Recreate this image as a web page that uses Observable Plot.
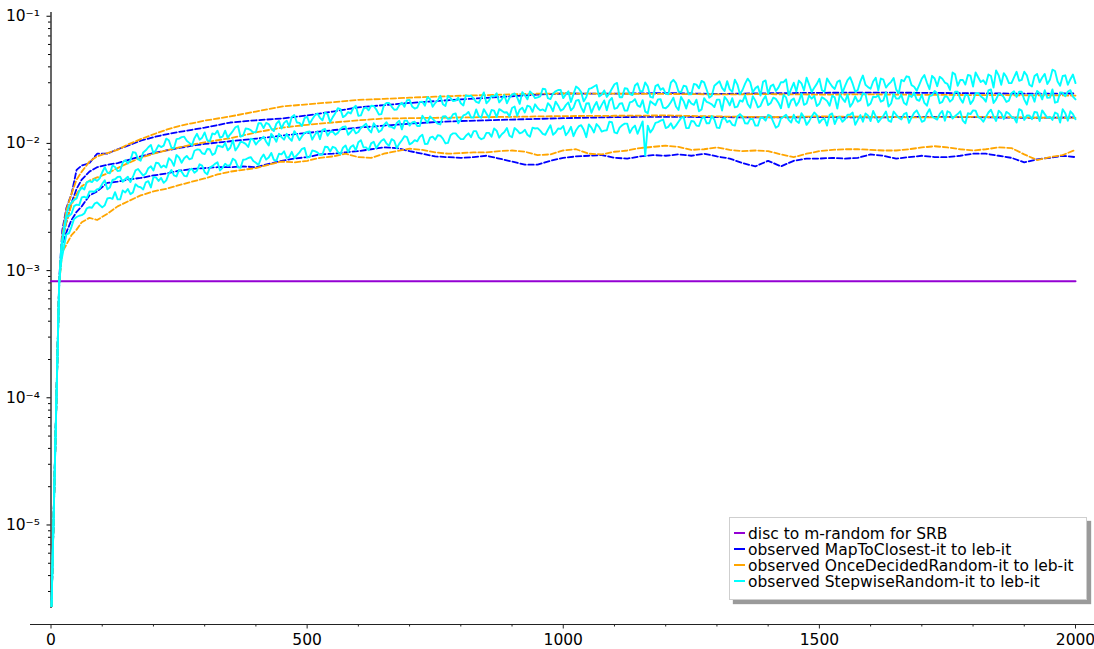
<!DOCTYPE html>
<html>
<head>
<meta charset="utf-8">
<script src="https://cdn.jsdelivr.net/npm/d3@7"></script>
<script src="https://cdn.jsdelivr.net/npm/@observablehq/plot@0.6"></script>
<style>
  html, body { margin: 0; padding: 0; background: #fff; }
  #wrap { position: relative; width: 1094px; height: 649px; font-family: "DejaVu Sans", sans-serif; }
  #legend {
    position: absolute; left: 729px; top: 517px; width: 358px; height: 83px;
    box-sizing: border-box; background: #fff; border: 1px solid #cfcfcf;
    box-shadow: 4px 4px 1px #9a9a9a; padding: 7.5px 0 0 4px;
    font-size: 15.5px; line-height: 16px; color: #000; white-space: nowrap;
  }
  #legend .row { height: 16px; }
  #legend .sw { display: inline-block; width: 11px; height: 2px; vertical-align: 5px; margin-right: 3px; }
</style>
</head>
<body>
<div id="wrap"></div>
<script>
// ---------- legend / series names ----------
const seriesNames = [
  "disc to m-random for SRB",
  "observed MapToClosest-it to leb-it",
  "observed OnceDecidedRandom-it to leb-it",
  "observed StepwiseRandom-it to leb-it"
];
const seriesColors = ["#9400d3", "#0000ff", "#ffa500", "#00ffff"];

// ---------- axis ticks ----------
const xMajorTicks = [0, 500, 1000, 1500, 2000];
const xMinorTicks = [100, 200, 300, 400, 600, 700, 800, 900, 1100, 1200, 1300, 1400, 1600, 1700, 1800, 1900];
const yMajorTicks = [1e-5, 1e-4, 1e-3, 1e-2, 1e-1];
const yMinorTicks = [3e-6, 4e-6, 5e-6, 6e-6, 7e-6, 8e-6, 9e-6,
  2e-5, 3e-5, 4e-5, 5e-5, 6e-5, 7e-5, 8e-5, 9e-5,
  2e-4, 3e-4, 4e-4, 5e-4, 6e-4, 7e-4, 8e-4, 9e-4,
  2e-3, 3e-3, 4e-3, 5e-3, 6e-3, 7e-3, 8e-3, 9e-3,
  2e-2, 3e-2, 4e-2, 5e-2, 6e-2, 7e-2, 8e-2, 9e-2];
const xDomain = [0, 2000];
const yDomain = [1.65e-6, 0.107];      // log scale, bottom = x-axis line
const xAxisLineExtent = [-40, 2040];   // where the bottom axis line runs
const yAxisLineExtent = [2.2e-6, 0.107];

// ---------- data (values in units of 1e-3) ----------
const discValue = 0.824;
const discX = [0, 2000];

const xCoarse = [1,16,22,30,40,50,60,75,90,110,130,150,175,200,225,250,275,300,350,400,450,500,550,600,650,700,750,800,850,900,950,1000,1100,1200,1300,1400,1500,1600,1700,1800,1900,2000];
const mapTop   = [0.0023,0.85,2.07,3.1,4.0,6.2,6.7,7.0,8.3,8.3,9.0,9.6,10.5,11.2,11.8,12.3,12.8,13.3,14.6,15.2,15.7,16.6,17.8,19.2,20.0,20.8,21.5,22.2,22.8,23.5,24.2,24.7,24.6,24.9,24.5,24.8,25.0,25.1,25.0,24.8,24.6,24.7];
const onceTop  = [0.0023,0.8,1.9,3.0,4.0,5.2,6.0,7.2,7.9,8.4,8.9,9.8,10.8,11.8,12.8,13.7,14.4,15.1,16.3,17.8,19.5,20.3,21.1,22.0,22.4,22.9,23.3,23.7,24.0,24.3,24.6,24.7,24.6,24.5,24.3,24.4,24.2,24.3,24.1,24.0,23.9,23.8];
const mapMid   = [0.0023,0.8,1.8,2.4,3.4,4.4,5.2,6.0,6.5,6.8,7.0,7.4,7.9,8.4,8.8,9.2,9.6,9.9,10.4,10.9,11.5,12.1,12.7,13.3,13.8,14.3,14.7,15.0,15.2,15.4,15.6,15.8,16.1,16.2,16.1,16.0,16.1,16.0,16.2,16.1,15.9,16.0];
const onceMid  = [0.0023,0.8,1.7,2.4,3.3,4.0,4.6,5.1,5.4,5.8,6.4,7.0,7.7,8.3,8.8,9.3,9.8,10.2,11.0,12.2,13.3,14.0,14.6,15.2,15.7,15.8,15.9,16.0,16.1,16.2,16.3,16.4,16.5,16.6,16.3,16.1,16.3,16.2,16.0,16.2,16.0,15.9];

const xFine = [1,16,22,30,40,50,60,75,90,110,130,150, ...d3.range(175, 2001, 25)];
const mapBottom = [0.0023,0.8,1.6,2.0,2.5,2.9,3.2,3.9,4.2,4.9,5.0,5.2,
  5.35,5.6,5.8,6.1,6.3,6.4,6.5,6.5,6.6,6.5,
  6.9,7.3,7.6,7.8,8.2,8.3,8.5,8.7,9.0,9.3,
  9.2,8.7,8.3,7.9,7.8,7.7,7.8,8.0,7.6,7.2,
  6.8,6.8,7.3,7.7,7.9,8.0,8.1,7.7,7.6,7.9,
  8.1,8.0,8.2,8.0,8.3,7.9,7.6,7.0,6.6,7.3,
  6.6,7.3,7.6,7.6,7.7,7.6,7.7,8.2,8.0,7.6,
  7.8,8.0,7.8,7.8,8.0,8.3,8.3,8.0,7.7,7.1,
  7.5,7.7,8.0,7.8];
const onceBottom = [0.0023,0.8,1.4,1.6,1.9,2.1,2.4,2.6,2.5,2.8,3.2,3.5,
  3.9,4.2,4.4,4.7,5.0,5.3,5.7,6.0,6.2,6.4,
  6.8,7.2,7.1,7.3,7.7,7.9,8.3,7.8,7.7,8.3,
  8.7,9.1,8.9,8.5,8.3,8.4,8.5,8.5,8.7,8.8,
  8.6,8.1,8.2,8.8,9.0,8.3,8.2,8.6,8.8,9.2,
  9.4,9.6,9.4,8.9,9.0,9.3,8.9,8.7,8.8,8.7,
  8.2,7.8,8.3,8.7,8.9,9.0,9.0,8.9,8.8,8.8,
  9.0,9.3,9.5,9.3,9.0,8.8,9.0,9.3,9.2,8.2,
  7.4,7.8,8.1,8.9];

// StepwiseRandom: noisy samples at x = 1, 16, 20, 30, ..., 2000 and at x = 25, 35, ..., 1995
const xStep = [1, 16, ...d3.range(20, 2001, 10)];
const xStepHalf = d3.range(25, 2000, 10);
const stepTop = [0.0023,0.8,
  1.55,2.73,3.43,3.70,4.49,4.96,4.97,5.08,
  5.93,5.89,6.70,6.06,7.06,6.96,8.55,7.53,8.50,9.33,
  8.37,9.69,9.60,10.6,9.17,10.9,11.3,10.1,11.0,10.7,
  12.2,10.4,11.8,11.1,12.6,11.8,13.4,11.3,13.1,12.7,
  12.3,14.4,14.5,13.1,14.3,13.1,15.1,16.1,14.6,13.7,
  16.2,15.5,17.2,15.2,17.0,16.1,18.9,16.1,17.6,18.9,
  16.5,18.7,18.2,19.7,16.9,20.0,20.8,18.4,20.0,19.4,
  22.0,18.8,21.2,19.8,22.3,20.8,23.7,19.7,22.7,21.7,
  20.7,23.9,23.8,21.2,22.9,20.7,23.6,24.8,22.2,20.7,
  24.2,23.0,25.3,22.2,24.5,23.0,26.9,22.7,24.6,26.3,
  22.7,25.7,24.4,27.0,21.4,26.8,28.0,23.4,26.1,24.7,
  29.2,23.1,27.2,24.4,28.5,25.7,30.2,23.2,28.2,26.4,
  24.6,30.0,29.8,25.3,28.1,24.3,29.0,31.0,26.4,23.7,
  29.6,27.3,30.9,25.5,29.0,26.3,32.3,25.3,28.1,30.5,
  24.6,29.0,27.5,30.3,24.0,30.0,31.2,26.1,29.0,27.4,
  32.2,25.5,30.0,26.8,31.3,28.2,33.2,25.5,30.8,28.9,
  26.9,32.8,32.4,27.5,30.5,26.5,31.6,33.7,28.7,25.9,
  32.3,30.0,34.0,28.2,32.2,29.4,36.1,28.4,31.6,34.5,
  28.0,33.1,31.4,34.8,27.5,34.3,35.7,29.8,33.0,31.1,
  36.6,28.9,33.9,30.2,35.2,31.6,37.1,28.4,34.3,32.0,29.8];
const stepTopHalf = [
  2.09,3.24,3.59,4.21,4.35,5.05,5.23,5.31,
  6.50,5.83,6.52,6.12,7.40,7.40,8.45,7.30,8.82,9.72,
  8.88,9.36,10.9,9.28,10.8,11.2,10.5,9.64,11.9,11.1,
  10.6,12.0,12.6,11.3,11.1,12.5,13.7,11.5,13.0,12.2,
  14.4,13.2,14.2,12.5,15.0,14.5,13.6,16.7,14.5,15.8,
  14.3,16.6,15.9,17.5,14.7,17.3,18.6,16.6,17.2,19.8,
  16.6,19.2,19.8,18.5,17.0,20.8,19.5,18.5,20.9,21.9,
  19.5,19.1,21.3,23.2,19.4,21.8,20.3,23.7,21.5,22.9,
  19.9,23.5,22.5,20.8,25.2,21.7,23.4,21.0,24.0,22.8,
  24.7,20.5,24.0,25.6,22.7,23.4,26.7,22.3,25.7,26.3,
  24.3,21.2,28.0,25.3,23.2,27.2,28.8,24.2,23.2,26.9,
  29.9,23.1,26.9,24.0,29.7,25.7,28.0,22.9,29.0,27.2,
  24.3,31.6,25.6,28.4,24.3,29.4,27.1,30.2,22.9,28.4,
  30.8,25.8,26.6,31.7,24.4,29.5,30.3,27.2,23.8,31.3,
  28.2,25.9,30.3,31.9,26.8,25.6,29.7,32.9,25.4,29.4,
  26.2,32.4,28.0,30.5,24.9,31.5,29.5,26.3,34.2,27.7,
  30.7,26.2,31.7,29.2,32.7,24.8,30.8,33.3,27.9,28.9,
  34.5,26.7,32.4,33.4,30.1,26.4,34.9,31.5,29.0,34.1,
  36.1,30.4,29.2,33.9,37.5,28.9,33.4,29.8,36.6,31.6,
  34.3,28.0,35.2,33.0,29.3,38.0,30.7,33.9,28.9,34.8];
const stepMid = [0.0023,0.8,
  1.37,2.64,2.80,3.30,3.76,3.72,4.19,4.36,
  4.81,4.36,5.16,5.44,4.99,5.47,5.47,6.29,5.59,6.39,
  6.13,6.98,6.70,7.65,6.66,7.75,7.64,7.51,8.76,8.93,
  8.24,8.99,8.35,9.50,10.1,9.25,8.81,10.3,9.93,10.9,
  9.80,10.8,10.3,11.9,10.3,11.2,11.9,10.5,11.7,11.4,
  12.3,10.7,12.4,12.8,11.5,12.4,12.1,13.5,11.7,13.1,
  12.3,13.7,12.9,14.4,12.3,14.0,13.6,13.1,15.1,15.1,
  13.8,14.8,13.7,15.5,16.3,14.9,14.1,16.4,15.7,17.2,
  15.4,16.9,16.0,18.5,15.9,17.2,18.3,16.1,18.1,17.6,
  19.0,16.5,19.1,19.8,17.7,19.0,18.5,20.7,17.9,19.9,
  18.6,21.0,19.1,22.0,17.6,20.7,19.5,18.4,21.8,21.6,
  18.7,20.5,18.1,21.0,22.3,19.4,17.8,21.5,20.0,22.3,
  18.9,21.1,19.5,23.2,18.8,20.6,22.1,18.5,21.2,20.3,
  22.1,18.1,21.9,22.7,19.5,21.3,20.4,23.5,19.2,22.0,
  20.0,22.9,20.9,24.0,19.2,22.6,21.3,20.1,23.8,23.6,
  20.5,22.4,19.8,23.0,24.3,21.2,19.4,23.4,21.9,24.3,
  20.6,23.1,21.3,25.3,20.6,22.5,24.1,20.1,23.2,22.1,
  24.1,19.8,23.9,24.8,21.2,23.2,22.2,25.5,20.9,23.9,
  21.8,24.9,22.7,26.1,20.8,24.5,23.1,21.7,25.7,25.5,
  22.1,24.1,21.3,24.8,26.2,22.9,20.9,25.2,23.5,26.2,22.2];
const stepMidHalf = [
  2.00,2.69,3.21,3.27,3.81,4.19,4.17,4.43,
  5.14,4.51,5.23,5.48,5.25,4.97,6.13,5.92,5.79,6.60,
  7.05,6.48,6.48,7.33,8.10,7.05,7.97,7.62,8.96,8.37,
  9.04,8.12,9.58,9.34,8.84,10.6,9.42,10.2,9.37,10.7,
  10.4,11.3,9.62,11.2,11.9,10.7,11.0,12.5,10.6,12.1,
  12.4,11.7,10.8,13.0,12.3,11.7,13.0,13.6,12.3,12.0,
  13.3,14.3,12.2,13.5,12.7,14.7,13.5,14.5,12.9,15.1,
  14.6,13.7,16.5,14.5,15.6,14.3,16.3,15.6,17.0,14.4,
  16.6,17.7,16.0,16.4,18.6,15.9,18.1,18.6,17.5,16.3,
  19.5,18.4,17.5,19.5,20.3,18.2,17.9,19.7,21.3,18.1,
  20.0,18.2,21.7,19.2,20.6,17.4,21.2,20.1,18.2,22.8,
  19.0,20.7,18.1,21.3,19.9,21.9,17.3,20.7,22.2,19.1,
  19.7,22.9,18.3,21.5,22.0,20.1,17.9,22.7,20.8,19.3,
  22.1,23.2,19.9,19.2,21.8,23.9,19.1,21.7,19.7,23.6,
  20.8,22.4,18.9,23.0,21.8,19.8,24.7,20.6,22.5,19.7,
  23.1,21.6,23.7,18.8,22.5,24.2,20.8,21.3,24.8,19.8,
  23.3,23.9,21.8,19.5,24.6,22.5,20.9,23.9,25.1,21.6,
  20.8,23.6,25.8,20.7,23.5,21.3,25.5,22.5,24.2,20.4,
  24.8,23.5,21.3,26.6,22.2,24.2,21.2,24.8,23.2,25.5,
  20.2,24.2,25.9,22.2,22.8,26.6,21.2,25.0,25.6,23.3];
const stepBottom = [0.0023,0.8,
  1.18,1.93,2.21,2.64,2.73,3.09,3.12,3.44,
  3.14,3.69,3.67,3.63,4.27,4.38,4.12,4.58,4.35,5.05,
  5.45,5.07,4.90,5.78,5.60,6.19,5.56,6.16,5.89,6.85,
  5.94,6.45,6.91,6.13,6.91,6.78,7.33,6.42,7.49,7.80,
  7.05,7.64,7.47,8.42,7.33,8.20,7.71,8.59,8.09,9.07,
  7.73,8.80,8.50,8.19,9.38,9.41,8.57,9.26,8.56,9.69,
  10.2,9.33,8.85,10.3,9.87,10.8,9.60,10.5,9.96,11.4,
  9.84,10.6,11.3,9.90,11.1,10.7,11.5,10.0,11.6,12.0,
  10.8,11.5,11.2,12.5,10.8,12.1,11.3,12.6,11.8,13.2,
  11.2,12.7,12.2,11.7,13.3,13.2,11.9,12.8,11.7,13.1,
  13.7,12.3,11.4,13.6,12.8,14.1,12.2,13.5,12.6,14.8,
  12.2,13.3,14.3,12.1,13.8,13.3,8.0,12.2,14.5,15.1,
  13.2,14.4,13.8,15.8,13.2,15.0,13.8,15.6,14.4,16.4,
  13.3,15.5,14.7,14.0,16.3,16.2,14.3,15.5,13.8,15.9,
  16.8,14.8,13.7,16.2,15.3,16.8,14.5,16.1,14.9,17.5,
  14.5,15.7,16.8,14.2,16.2,15.5,16.8,14.0,16.7,17.2,
  15.0,16.3,15.6,17.8,14.8,16.8,15.4,17.4,16.0,18.2,
  14.8,17.2,16.3,15.4,18.0,17.9,15.7,17.0,15.1,17.3,
  18.2,16.1,14.8,17.5,16.4,18.1,15.5,17.2,15.9,18.6,
  15.3,16.6,17.7,15.0,17.0,16.2,17.5,14.6,17.3,17.9,15.5];
const stepBottomHalf = [
  1.51,1.96,2.55,2.70,2.81,3.15,3.36,3.28,
  3.27,3.73,4.14,3.63,4.12,3.99,4.77,4.52,4.95,4.51,
  5.41,5.35,5.12,6.19,5.50,5.99,5.51,6.33,6.11,6.69,
  5.71,6.63,7.10,6.43,6.66,7.59,6.50,7.44,7.68,7.27,
  6.77,8.18,7.74,7.43,8.30,8.68,7.82,7.68,8.50,9.20,
  7.84,8.69,8.15,9.42,8.64,9.23,8.23,9.65,9.37,8.82,
  10.6,9.31,10.0,9.19,10.5,10.0,10.8,9.18,10.6,11.2,
  10.1,10.4,11.7,9.93,11.3,11.6,10.9,10.1,12.0,11.3,
  10.8,12.0,12.5,11.2,11.0,12.1,13.1,11.1,12.3,11.5,
  13.2,12.0,12.8,11.3,13.1,12.6,11.7,13.9,12.2,13.0,
  11.6,13.5,12.7,13.9,11.2,13.3,14.2,12.4,12.7,14.7,
  12.0,13.9,14.3,13.2,11.9,14.9,13.8,13.0,14.7,15.4,
  13.5,13.1,14.8,16.2,13.2,14.9,13.7,16.2,14.4,15.4,
  13.2,15.9,15.1,13.8,17.0,14.4,15.6,13.8,16.0,15.1,
  16.5,13.3,15.7,16.8,14.6,15.0,17.3,14.0,16.3,16.7,
  15.4,13.8,17.2,15.8,14.8,16.8,17.5,15.3,14.8,16.6,
  18.0,14.7,16.5,15.1,17.8,15.9,17.0,14.5,17.4,16.6,
  15.1,18.6,15.8,17.1,15.1,17.5,16.4,17.9,14.4,17.0,
  18.1,15.7,16.1,18.4,15.0,17.3,17.7,16.2,14.6,18.1,
  16.6,15.5,17.5,18.2,15.9,15.3,17.1,18.6,15.1,17.0];

// ---------- build tables ----------
const UNIT = 1e-3;
function table(id, xs, vals) {
  const n = Math.min(xs.length, vals.length);
  const out = [];
  for (let i = 0; i < n; i++) out.push({id, x: xs[i], y: vals[i] * UNIT});
  return out;
}
function merged(id, xsA, valsA, xsB, valsB) {
  return [...table(id, xsA, valsA), ...table(id, xsB, valsB)].sort((a, b) => a.x - b.x);
}
const disc = table("disc", discX, discX.map(() => discValue));
const blue = [...table("mT", xCoarse, mapTop), ...table("mM", xCoarse, mapMid), ...table("mB", xFine, mapBottom)];
const orange = [...table("oT", xCoarse, onceTop), ...table("oM", xCoarse, onceMid), ...table("oB", xFine, onceBottom)];
const cyan = [
  ...merged("sT", xStep, stepTop, xStepHalf, stepTopHalf),
  ...merged("sM", xStep, stepMid, xStepHalf, stepMidHalf),
  ...merged("sB", xStep, stepBottom, xStepHalf, stepBottomHalf)
];

const supMap = {"-": "\u207B", "0": "\u2070", "1": "\u00B9", "2": "\u00B2", "3": "\u00B3", "4": "\u2074", "5": "\u2075", "6": "\u2076"};
const powFmt = d => "10" + String(Math.round(Math.log10(d))).split("").map(c => supMap[c]).join("");

const plot = Plot.plot({
  width: 1094, height: 649,
  marginLeft: 50.5, marginRight: 19, marginTop: 12, marginBottom: 25,
  style: {fontFamily: "'DejaVu Sans', sans-serif", fontSize: "15.5px", color: "#000", background: "#fff"},
  x: {domain: xDomain, label: null},
  y: {type: "log", domain: yDomain, label: null},
  marks: [
    Plot.ruleY([yDomain[0]], {x1: xAxisLineExtent[0], x2: xAxisLineExtent[1], stroke: "#222", strokeWidth: 1.2}),
    Plot.ruleX([0], {y1: yAxisLineExtent[0], y2: yAxisLineExtent[1], stroke: "#000", strokeWidth: 1.2}),
    Plot.axisX({anchor: "bottom", ticks: xMajorTicks, tickSize: 4.5, tickPadding: 5, tickFormat: d => String(d), label: null, stroke: "#222"}),
    Plot.axisX({anchor: "bottom", ticks: xMinorTicks, tickSize: 2.5, tickFormat: () => "", label: null, stroke: "#222"}),
    Plot.axisY({anchor: "left", ticks: yMajorTicks, tickSize: 4, tickPadding: 7, tickFormat: powFmt, label: null}),
    Plot.axisY({anchor: "left", ticks: yMinorTicks, tickSize: 2.5, tickFormat: () => "", label: null}),
    Plot.line(disc, {x: "x", y: "y", z: "id", stroke: seriesColors[0], strokeWidth: 2}),
    Plot.line(blue, {x: "x", y: "y", z: "id", stroke: seriesColors[1], strokeWidth: 1.8, strokeDasharray: "5.5,2.6"}),
    Plot.line(orange, {x: "x", y: "y", z: "id", stroke: seriesColors[2], strokeWidth: 1.8, strokeDasharray: "5.5,2.6"}),
    Plot.line(cyan, {x: "x", y: "y", z: "id", stroke: seriesColors[3], strokeWidth: 1.9})
  ]
});

const wrap = document.getElementById("wrap");
wrap.appendChild(plot);

const legend = document.createElement("div");
legend.id = "legend";
seriesNames.forEach((name, i) => {
  const row = document.createElement("div");
  row.className = "row";
  const sw = document.createElement("span");
  sw.className = "sw";
  sw.style.background = seriesColors[i];
  row.appendChild(sw);
  row.appendChild(document.createTextNode(name));
  legend.appendChild(row);
});
wrap.appendChild(legend);
</script>
</body>
</html>
